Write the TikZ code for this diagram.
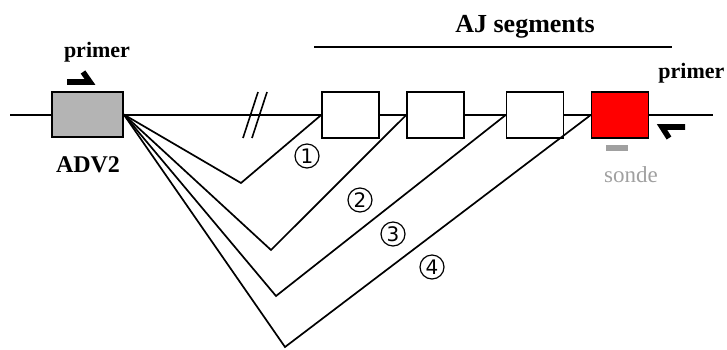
\documentclass[tikz,border=0pt]{standalone}
\usepackage{fontspec}
\setmainfont{Liberation Serif}
\newfontfamily\circfont{DejaVu Sans}
\usetikzlibrary{positioning}
\definecolor{advgray}{RGB}{180,180,180}
\definecolor{sondegray}{RGB}{160,160,160}

\begin{document}
\begin{tikzpicture}[x=0.5pt,y=-0.5pt]
\tikzstyle{every node}+=[inner sep=0pt]
\tikzstyle{seg}=[draw,line width=0.8pt,minimum width=28.5pt,minimum height=23pt,fill=white]
\tikzstyle{lbl}=[font=\bfseries\fontsize{12}{14}\selectfont]
\tikzstyle{num}=[draw,circle,line width=0.6pt,minimum size=12pt,font=\circfont\fontsize{10}{11}\selectfont]
\tikzstyle{splice}=[line width=0.85pt,line join=miter]
\tikzstyle{primerarrow}=[line width=2.8pt,line join=miter]
\useasboundingbox (0,0) rectangle (727,349);
% main line
\coordinate (l0) at (10,115);
\coordinate (r0) at (713,115);
\draw [line width=0.8pt] (l0) -- (r0);
% break in the line
\draw [line width=0.8pt] (243,138) -- (258,92);
\draw [line width=0.8pt] (252,138) -- (267,92);
% exons
\node [seg,fill=advgray,minimum width=35.5pt,minimum height=22.5pt] (adv) at (87.5,114.5) {};
\node [seg] (aj1) at (350.5,115) {};
\node [seg] (aj2) at (435.5,115) {};
\node [seg] (aj3) at (535,115) {};
\node [seg,fill=red] (aj4) at (620,115) {};
% splicing
\coordinate (v1) at (241,183);
\coordinate (v2) at (271,250);
\coordinate (v3) at (276,296);
\coordinate (v4) at (285,347);
\draw [splice] (adv.east) -- (v1) -- (aj1.west);
\draw [splice] (adv.east) -- (v2) -- (aj2.west);
\draw [splice] (adv.east) -- (v3) -- (aj3.west);
\draw [splice] (adv.east) -- (v4) -- (aj4.west);
\node [num] (n1) at (307,156) {1};
\node [num] (n2) at (360,200) {2};
\node [num] (n3) at (393,234) {3};
\node [num] (n4) at (432,267) {4};
% labels
\node [lbl] (advlbl) at (88,165) {ADV2};
\node [lbl,font=\bfseries\fontsize{13}{15}\selectfont] (ajlbl) at (525,27) {AJ segments};
\coordinate (ajl) at (314,47);
\coordinate (ajr) at (672,47);
\draw [line width=0.9pt] (ajl) -- (ajr);
% primers
\node [lbl,font=\bfseries\fontsize{11}{13}\selectfont] (primerl) at (97,52) {primer};
\node [lbl,font=\bfseries\fontsize{11}{13}\selectfont,anchor=west] (primerr) at (658,73) {primer};
\draw [primerarrow] (67,82) -- (90,82) -- (83,72);
\draw [primerarrow] (685,127) -- (662,127) -- (669,138);
% probe
\draw [sondegray,line width=3pt] (606,148) -- (628,148);
\node [text=sondegray,font=\fontsize{11.5}{13}\selectfont] (sonde) at (631,175) {sonde};
\end{tikzpicture}
\end{document}
